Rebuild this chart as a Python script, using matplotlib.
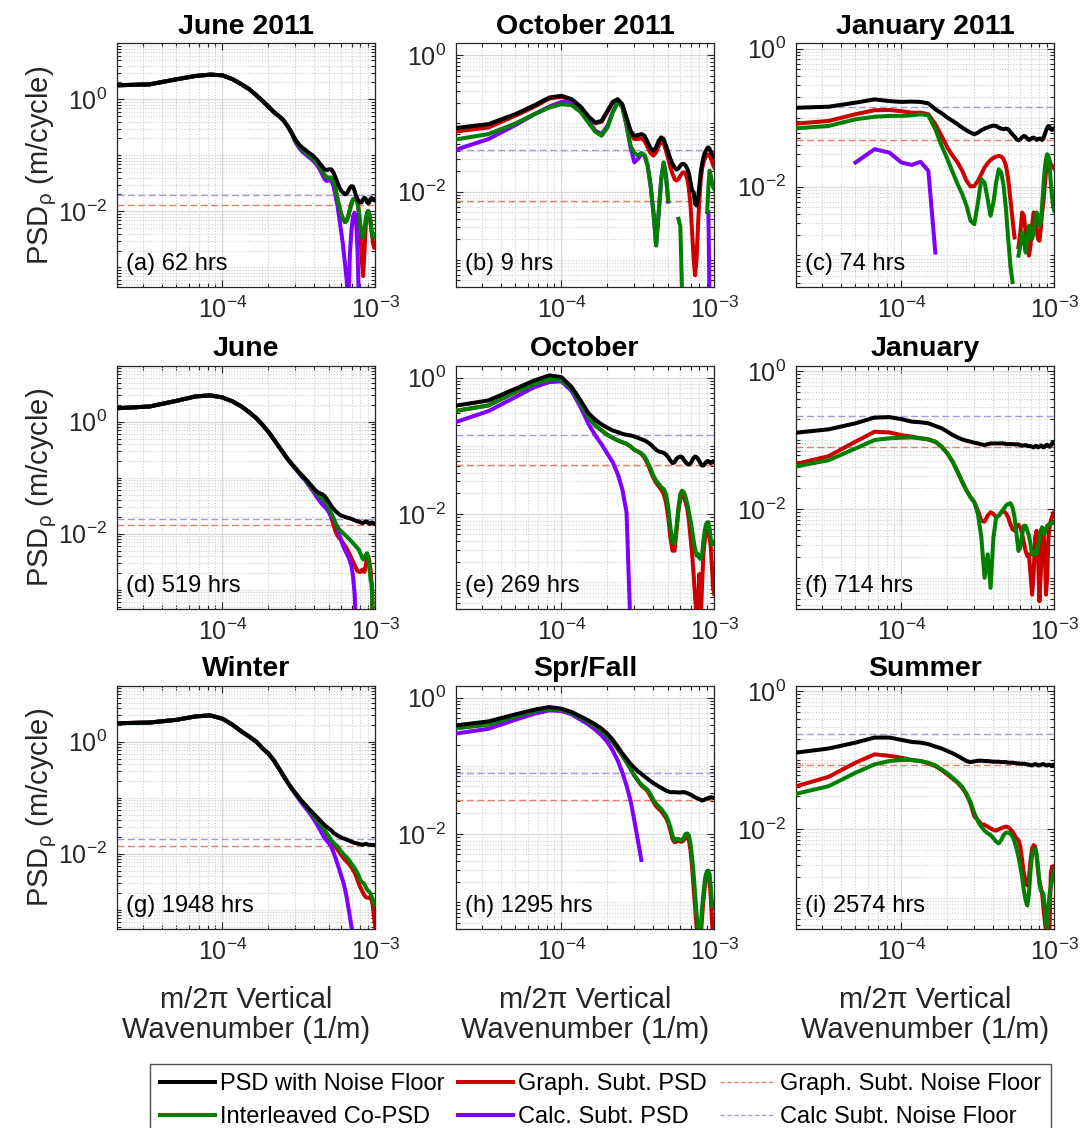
import numpy as np
import matplotlib
matplotlib.use("Agg")
import matplotlib.pyplot as plt
from matplotlib.lines import Line2D
from matplotlib.ticker import FixedLocator, NullFormatter, LogFormatterMathtext

plt.rcParams['font.family'] = ['Liberation Sans', 'DejaVu Sans']
plt.rcParams['mathtext.fontset'] = 'custom'
plt.rcParams['mathtext.rm'] = 'Liberation Sans'
plt.rcParams['mathtext.it'] = 'Liberation Sans:italic'
plt.rcParams['mathtext.bf'] = 'Liberation Sans:bold'

nan = float('nan')

# vertical wavenumber grid (1/m): mode numbers 1..60 of a 60 km record
mode_number = np.arange(1, 61)
wavenumber = mode_number / 60000.0

titles = ['June 2011', 'October 2011', 'January 2011',
          'June', 'October', 'January',
          'Winter', 'Spr/Fall', 'Summer']
panel_tags = ['(a) 62 hrs', '(b) 9 hrs', '(c) 74 hrs',
              '(d) 519 hrs', '(e) 269 hrs', '(f) 714 hrs',
              '(g) 1948 hrs', '(h) 1295 hrs', '(i) 2574 hrs']
graph_noise_floor = [0.013, 0.0073, 0.048, 0.0144, 0.0526, 0.0799, 0.0136, 0.0316, 0.0836]
calc_noise_floor = [0.0193, 0.0407, 0.143, 0.0184, 0.145, 0.227, 0.0187, 0.0789, 0.238]
y_limits = [(4.5e-4, 10), (4e-4, 1.5), (3.5e-4, 1.2),
            (4.5e-4, 10), (4e-4, 1.5), (3.5e-4, 1.2),
            (4.5e-4, 10), (4e-4, 1.5), (3.5e-4, 1.2)]

# ---------------- (a) June 2011 ----------------
a_black = [1.75, 1.85, 2.28, 2.61, 2.76, 2.68, 2.28, 1.85, 1.51, 1.18,
           0.934, 0.74, 0.594, 0.504, 0.428, 0.334, 0.254, 0.193, 0.157, 0.137,
           0.124, 0.112, 0.103, 0.0933, 0.0826, 0.072, 0.0628, 0.0562, 0.0547, 0.0562,
           0.0562, 0.049, 0.0399, 0.0325, 0.0265, 0.0231, 0.0216, 0.0201, 0.0207, 0.0231,
           0.0265, 0.0283, 0.0276, 0.0231, 0.0188, 0.0164, 0.0153, 0.0143, 0.0147, 0.0164,
           0.0175, 0.0168, 0.0147, 0.0139, 0.0147, 0.0168, 0.0173, 0.0164, 0.0157, 0.0164]
a_green = [1.75, 1.85, 2.28, 2.61, 2.76, 2.68, 2.28, 1.85, 1.51, 1.18,
           0.934, 0.74, 0.594, 0.504, 0.428, 0.334, 0.254, 0.180, 0.147, 0.124,
           0.112, 0.100, 0.0908, 0.0814, 0.072, 0.0628, 0.0525, 0.044, 0.0399, 0.0399,
           0.0399, 0.0348, 0.0247, 0.0164, 0.0116, 0.00884, 0.0072, 0.00645, 0.00672, 0.00826,
           0.0109, 0.0139, 0.0164, 0.0168, 0.0164, 0.0143, 0.00946, 0.00547, 0.00363, 0.00339,
           0.00477, 0.0072, 0.00946, 0.0101, 0.00884, 0.00628, 0.00416, 0.00339, 0.00353, 0.00388]
a_red = [1.75, 1.85, 2.28, 2.61, 2.76, 2.68, 2.28, 1.85, 1.51, 1.18,
         0.934, 0.74, 0.594, 0.504, 0.428, 0.334, 0.254, 0.180, 0.147, 0.124,
         0.112, 0.100, 0.0908, 0.0814, 0.072, 0.0628, 0.0525, 0.044, 0.0399, 0.0399,
         0.0399, 0.0348, 0.0247, 0.0164, 0.0116, 0.00884, 0.0072, 0.00645, 0.00672, 0.00826,
         0.0109, 0.0139, 0.0164, 0.0168, 0.0164, 0.0143, 0.00946, 0.00416, 0.00139, 0.0007,
         0.00183, 0.00547, 0.00884, 0.0101, 0.00884, 0.00628, 0.00416, 0.00275, 0.00224, 0.00224]
a_purple = [1.75, 1.85, 2.28, 2.61, 2.76, 2.68, 2.28, 1.85, 1.51, 1.18,
            0.934, 0.74, 0.594, 0.504, 0.428, 0.334, 0.254, 0.173, 0.137, 0.116,
            0.104, 0.0933, 0.0849, 0.076, 0.0662, 0.0562, 0.0458, 0.0373, 0.0348, 0.0358,
            0.0348, 0.0283, 0.0188, 0.0125, 0.0072, 0.00416, 0.0024, 0.00121, 0.00061, 0.0002,
            0.00183, 0.00477, 0.00826, 0.00946, 0.0072, 0.00183, 0.0002, nan, nan, nan,
            nan, nan, nan, nan, nan, nan, nan, nan, nan, nan]

# ---------------- (b) October 2011 ----------------
b_black = [0.081, 0.0978, 0.137, 0.185, 0.240, 0.254, 0.227, 0.177, 0.127, 0.103,
           0.109, 0.153, 0.207, 0.227, 0.192, 0.122, 0.0781, 0.066, 0.0675, 0.0698,
           0.066, 0.0527, 0.0431, 0.0398, 0.0446, 0.0557, 0.0624, 0.059, 0.0471, 0.0377,
           0.0301, 0.0254, 0.0227, 0.021, 0.0219, 0.024, 0.0254, 0.0254, 0.024, 0.0215,
           0.0181, 0.0137, 0.0103, 0.00977, 0.0066, 0.00624, 0.00781, 0.0122, 0.0192, 0.0254,
           0.0318, 0.0368, 0.0398, 0.0431, 0.0446, 0.0421, 0.0385, 0.0356, 0.0337, 0.0318]
b_red = [0.072, 0.0874, 0.13, 0.177, 0.232, 0.245, 0.222, 0.171, 0.122, 0.1,
         0.106, 0.148, 0.203, 0.222, 0.185, 0.116, 0.0698, 0.059, 0.059, 0.0605,
         0.0557, 0.0446, 0.0368, 0.0337, 0.0377, 0.0471, 0.054, 0.052, 0.0398, 0.0301,
         0.0227, 0.0181, 0.0153, 0.0145, 0.0153, 0.017, 0.0187, 0.0192, 0.0181, 0.0153,
         0.0109, 0.00624, 0.00254, 0.00105, 0.00059, 0.00105, 0.00318, 0.00781, 0.0153, 0.0215,
         0.0269, 0.0301, 0.033, 0.0344, 0.035, 0.0337, 0.0308, 0.0275, 0.0245, 0.0227]
b_green = [0.054, 0.0698, 0.1, 0.137, 0.171, 0.192, 0.185, 0.148, 0.103, 0.0755,
           0.066, 0.0874, 0.145, 0.203, 0.177, 0.0924, 0.0471, 0.0368, 0.0337, 0.0368,
           0.0344, 0.024, 0.0122, 0.005, 0.00162, 0.005, 0.0153, 0.0269, 0.0171, 0.00738,
           nan, nan, nan, nan, 0.00398, 0.00307, 0.0003, nan, nan, nan,
           nan, nan, nan, nan, nan, nan, nan, nan, nan, nan,
           nan, nan, nan, 0.005, 0.0122, 0.0203, 0.0171, 0.0137, 0.0116, 0.0109]
b_purple = [0.0356, 0.059, 0.0946, 0.137, 0.177, 0.207, 0.203, 0.162, 0.109, 0.0781,
            0.0698, 0.0924, 0.148, 0.207, 0.18, 0.0946, 0.0446, 0.0269, 0.0301, 0.0356,
            0.0337, 0.024, 0.0122, 0.005, 0.00162, 0.005, 0.0153, 0.0262, 0.017, 0.0071,
            nan, nan, nan, nan, nan, nan, nan, nan, nan, nan,
            nan, nan, nan, nan, nan, nan, nan, nan, nan, nan,
            nan, nan, nan, nan, 0.005, 0.0002, nan, nan, nan, nan]

# ---------------- (c) January 2011 ----------------
c_black = [0.137, 0.144, 0.165, 0.184, 0.174, 0.169, 0.171, 0.169, 0.161, 0.132,
           0.116, 0.1, 0.0895, 0.08, 0.0716, 0.0655, 0.0606, 0.0573, 0.0606, 0.0655,
           0.0693, 0.072, 0.075, 0.0766, 0.0757, 0.0716, 0.0693, 0.0678, 0.0693, 0.0678,
           0.0619, 0.0573, 0.0531, 0.0486, 0.0469, 0.0486, 0.0519, 0.0542, 0.0531, 0.0497,
           0.0475, 0.0486, 0.0507, 0.0513, 0.0497, 0.0475, 0.0486, 0.0497, 0.0497, 0.0475,
           0.0497, 0.0573, 0.0641, 0.0716, 0.0757, 0.0741, 0.0678, 0.0663, 0.0693, 0.0693]
c_red = [0.0792, 0.0895, 0.112, 0.128, 0.129, 0.124, 0.118, 0.118, 0.112, 0.08,
         0.0542, 0.0367, 0.0278, 0.0223, 0.0169, 0.0121, 0.01, 0.0102, 0.0121, 0.0151,
         0.0189, 0.0218, 0.0243, 0.026, 0.0272, 0.0278, 0.0272, 0.0249, 0.02, 0.0128,
         0.00655, 0.00336, 0.00182, nan, 0.00131, 0.00216, 0.0042, 0.00376, 0.00216, 0.00124,
         0.00099, 0.00138, 0.00269, 0.0042, 0.00376, 0.00241, 0.00173, 0.00163, 0.00241, 0.0042,
         0.00586, 0.0102, 0.016, 0.0223, 0.0255, 0.0236, 0.0211, 0.02, 0.0189, 0.0182]
c_green = [0.0678, 0.0757, 0.0946, 0.103, 0.106, 0.106, 0.108, 0.112, 0.108, 0.0678,
           0.0388, 0.0249, 0.016, 0.0108, 0.00774, 0.00525, 0.00318, 0.00284, 0.00586, 0.0128,
           0.0114, 0.00655, 0.00376, 0.00586, 0.0114, 0.0178, 0.016, 0.0102, 0.00469, 0.00173,
           0.00071, 0.00041, nan, nan, 0.00099, 0.00138, 0.00216, 0.00173, 0.0011, 0.00173,
           0.00269, 0.00241, 0.00173, 0.00216, 0.00336, 0.0042, 0.00376, 0.00269, 0.00301, 0.00525,
           0.0102, 0.0178, 0.0249, 0.0294, 0.0278, 0.02, 0.0114, 0.00732, 0.00525, 0.00444]
c_purple = [nan, nan, 0.0223, 0.0348, 0.0311, 0.0223, 0.0206, 0.0228, 0.0169, 0.0011,
            nan, nan, nan, nan, nan, nan, nan, nan, nan, nan,
            nan, nan, nan, nan, nan, nan, nan, nan, nan, nan,
            nan, nan, nan, nan, nan, nan, nan, nan, nan, nan,
            nan, nan, nan, nan, nan, nan, nan, nan, nan, nan,
            nan, nan, nan, nan, nan, nan, nan, nan, nan, nan]

# ---------------- (d) June ----------------
d_black = [1.69, 1.87, 2.36, 2.83, 2.95, 2.71, 2.30, 1.87, 1.47, 1.15,
           0.871, 0.659, 0.486, 0.363, 0.279, 0.217, 0.177, 0.148, 0.125, 0.109,
           0.0946, 0.0824, 0.0717, 0.0624, 0.0558, 0.0528, 0.0507, 0.0473, 0.0411, 0.0358,
           0.0312, 0.0279, 0.0253, 0.0236, 0.022, 0.0211, 0.0206, 0.02, 0.0195, 0.0192,
           0.0189, 0.0184, 0.0179, 0.0174, 0.0169, 0.0167, 0.0165, 0.016, 0.0156, 0.0156,
           0.016, 0.0167, 0.0165, 0.0156, 0.015, 0.0156, 0.016, 0.0156, 0.015, 0.015]
d_green = [1.69, 1.87, 2.36, 2.83, 2.95, 2.71, 2.30, 1.87, 1.47, 1.15,
           0.871, 0.659, 0.486, 0.363, 0.279, 0.217, 0.177, 0.148, 0.125, 0.106,
           0.092, 0.0769, 0.0669, 0.0582, 0.0507, 0.046, 0.0423, 0.0384, 0.0334, 0.0279,
           0.023, 0.0192, 0.0156, 0.0132, 0.0118, 0.011, 0.0103, 0.0096, 0.00895, 0.00835,
           0.0078, 0.00727, 0.00678, 0.00633, 0.0059, 0.00551, 0.00514, 0.00448, 0.00389, 0.00348,
           0.00363, 0.00417, 0.00448, 0.00389, 0.00257, 0.00148, 0.00128, 0.0002, nan, nan]
d_red = [1.69, 1.87, 2.36, 2.83, 2.95, 2.71, 2.30, 1.87, 1.47, 1.15,
         0.871, 0.659, 0.486, 0.363, 0.279, 0.217, 0.177, 0.148, 0.125, 0.106,
         0.092, 0.0769, 0.0669, 0.0582, 0.0507, 0.046, 0.0411, 0.0358, 0.0312, 0.0253,
         0.0192, 0.0146, 0.011, 0.0092, 0.00835, 0.00758, 0.00678, 0.00607, 0.00551, 0.0048,
         0.00417, 0.00363, 0.00316, 0.00275, 0.0024, 0.00217, 0.00208, 0.00208, 0.00224, 0.0023,
         0.00208, 0.00264, 0.00363, 0.00389, 0.00316, 0.00224, 0.00112, 0.0002, nan, nan]
d_purple = [1.69, 1.87, 2.36, 2.83, 2.95, 2.71, 2.30, 1.87, 1.47, 1.15,
            0.871, 0.659, 0.486, 0.363, 0.279, 0.217, 0.177, 0.148, 0.121, 0.101,
            0.0883, 0.0737, 0.0624, 0.0528, 0.0441, 0.0384, 0.0334, 0.0303, 0.0272, 0.0236,
            0.02, 0.0174, 0.0152, 0.0127, 0.0096, 0.00758, 0.00607, 0.00514, 0.00448, 0.00389,
            0.0033, 0.00257, 0.00169, 0.00085, 0.0002, nan, nan, nan, nan, nan,
            nan, nan, nan, nan, nan, nan, nan, nan, nan, nan]

# ---------------- (e) October ----------------
e_black = [0.362, 0.464, 0.689, 0.914, 1.08, 1.02, 0.729, 0.464, 0.302, 0.241,
           0.206, 0.184, 0.168, 0.159, 0.15, 0.145, 0.142, 0.137, 0.131, 0.125,
           0.12, 0.113, 0.105, 0.0955, 0.0873, 0.0826, 0.0807, 0.0789, 0.0746, 0.0681,
           0.0608, 0.0556, 0.0575, 0.0644, 0.0681, 0.0697, 0.0681, 0.0622, 0.0575, 0.0543,
           0.0531, 0.0556, 0.0608, 0.0666, 0.0697, 0.0681, 0.0644, 0.0595, 0.0543, 0.0514,
           0.0514, 0.0543, 0.0575, 0.0595, 0.0595, 0.0575, 0.0556, 0.0575, 0.0595, 0.0575]
e_green = [0.302, 0.392, 0.616, 0.816, 0.935, 0.914, 0.689, 0.415, 0.264, 0.199,
           0.168, 0.145, 0.131, 0.12, 0.113, 0.107, 0.0978, 0.0873, 0.0826, 0.078,
           0.0697, 0.0575, 0.0459, 0.0366, 0.0309, 0.0276, 0.0247, 0.0233, 0.0197, 0.0125,
           0.00637, 0.00383, 0.00371, 0.00637, 0.0125, 0.0197, 0.022, 0.0208, 0.0176, 0.014,
           0.0106, 0.00798, 0.00569, 0.00405, 0.00306, 0.00244, 0.00258, 0.00225, 0.00218, 0.00258,
           0.00405, 0.00569, 0.00697, 0.00754, 0.00754, 0.00601, 0.00429, 0.00354, 0.00362, 0.00383]
e_red = [0.302, 0.392, 0.616, 0.816, 0.935, 0.914, 0.689, 0.415, 0.264, 0.199,
         0.168, 0.145, 0.131, 0.12, 0.113, 0.107, 0.0978, 0.0873, 0.0826, 0.0762,
         0.0666, 0.0543, 0.0424, 0.0338, 0.0286, 0.0255, 0.0228, 0.0197, 0.0149, 0.00893,
         0.00454, 0.00289, 0.00289, 0.00569, 0.0112, 0.0166, 0.0186, 0.0176, 0.0149, 0.0119,
         0.00798, 0.00454, 0.00258, 0.00131, 0.0006, 0.0003, 0.00042, 0.00131, 0.0003, 0.00094,
         0.00258, 0.00405, 0.00508, 0.00569, 0.00569, 0.00454, 0.00324, 0.00164, 0.00084, 0.00067]
e_purple = [0.192, 0.324, 0.52, 0.729, 0.863, 0.883, 0.637, 0.371, 0.211, 0.142,
            0.105, 0.0762, 0.0575, 0.0388, 0.0233, 0.0106, 0.0002, nan, nan, nan,
            nan, nan, nan, nan, nan, nan, nan, nan, nan, nan,
            nan, nan, nan, nan, nan, nan, nan, nan, nan, nan,
            nan, nan, nan, nan, nan, nan, nan, nan, nan, nan,
            nan, nan, nan, nan, nan, nan, nan, nan, nan, nan]

# ---------------- (f) January ----------------
f_black = [0.122, 0.143, 0.175, 0.212, 0.215, 0.201, 0.185, 0.181, 0.175, 0.16,
           0.148, 0.132, 0.118, 0.109, 0.102, 0.0978, 0.0946, 0.0914, 0.0893, 0.0865,
           0.0845, 0.0873, 0.0893, 0.0893, 0.0893, 0.0893, 0.0893, 0.0893, 0.0873, 0.0873,
           0.0873, 0.0873, 0.0865, 0.0865, 0.0865, 0.0845, 0.0826, 0.0836, 0.0845, 0.0826,
           0.0817, 0.0817, 0.0799, 0.0781, 0.0817, 0.0817, 0.0781, 0.0799, 0.0836, 0.0817,
           0.0781, 0.0799, 0.0836, 0.0855, 0.0817, 0.0799, 0.0836, 0.0893, 0.0914, 0.0893]
f_red = [0.0403, 0.0583, 0.0946, 0.132, 0.129, 0.118, 0.112, 0.106, 0.102, 0.0946,
         0.0799, 0.0638, 0.0482, 0.0344, 0.0246, 0.0185, 0.0148, 0.0125, 0.00946, 0.00675,
         0.00653, 0.00798, 0.00894, 0.00845, 0.00755, 0.00798, 0.00894, 0.00925, 0.00865, 0.00755,
         0.00603, 0.00509, 0.00482, 0.00551, 0.0059, 0.0054, 0.00431, 0.00325, 0.00245, 0.00207,
         0.00219, 0.00112, 0.00057, 0.00112, 0.00385, 0.00482, 0.00219, 0.000456, 0.00112, 0.00385,
         0.00482, 0.00245, 0.00057, 0.001, 0.00385, 0.0054, 0.00675, 0.00755, 0.00865, 0.00894]
f_green = [0.038, 0.0509, 0.0755, 0.1, 0.106, 0.108, 0.109, 0.106, 0.102, 0.0946,
           0.0799, 0.0638, 0.0482, 0.0344, 0.0246, 0.0185, 0.0148, 0.0125, 0.00845, 0.00385,
           0.001, 0.00219, 0.000714, 0.00385, 0.00755, 0.00798, 0.00894, 0.01, 0.0112, 0.0118,
           0.0121, 0.0106, 0.00755, 0.00431, 0.00245, 0.00275, 0.00431, 0.0057, 0.0057, 0.00482,
           0.00407, 0.00307, 0.00219, 0.00245, 0.00219, 0.00224, 0.00275, 0.00364, 0.00482, 0.0054,
           0.00509, 0.00431, 0.00482, 0.0057, 0.0059, 0.00603, 0.00617, 0.00638, 0.00638, 0.00638]

# ---------------- (g) Winter ----------------
g_black = [2.11, 2.2, 2.46, 2.83, 2.95, 2.57, 2.0, 1.52, 1.23, 1.0,
           0.758, 0.615, 0.466, 0.339, 0.25, 0.189, 0.148, 0.121, 0.1, 0.0847,
           0.0737, 0.0641, 0.0566, 0.05, 0.0448, 0.04, 0.0358, 0.0325, 0.0299, 0.0279,
           0.026, 0.0236, 0.0224, 0.0211, 0.0203, 0.0195, 0.0189, 0.0184, 0.0179, 0.0174,
           0.0169, 0.0165, 0.016, 0.0156, 0.0154, 0.0152, 0.015, 0.0148, 0.0146, 0.0146,
           0.0148, 0.015, 0.0148, 0.0146, 0.0144, 0.0144, 0.0144, 0.0144, 0.0142, 0.0142]
g_green = [2.11, 2.2, 2.46, 2.83, 2.95, 2.57, 2.0, 1.52, 1.23, 1.0,
           0.758, 0.615, 0.466, 0.339, 0.25, 0.189, 0.148, 0.121, 0.1, 0.0847,
           0.0737, 0.0607, 0.0528, 0.046, 0.04, 0.0348, 0.0303, 0.0264, 0.023, 0.02,
           0.0174, 0.0156, 0.0146, 0.0136, 0.0121, 0.011, 0.01, 0.0092, 0.00871, 0.00801,
           0.00727, 0.00659, 0.00607, 0.00551, 0.005, 0.00448, 0.00389, 0.00339, 0.00316, 0.00303,
           0.00287, 0.00257, 0.0023, 0.00217, 0.00208, 0.00195, 0.00169, 0.00148, 0.00128, 0.0012]
g_red = [2.11, 2.2, 2.46, 2.83, 2.95, 2.57, 2.0, 1.52, 1.23, 1.0,
         0.758, 0.615, 0.466, 0.339, 0.25, 0.189, 0.148, 0.121, 0.1, 0.0847,
         0.0737, 0.0598, 0.0521, 0.0448, 0.0384, 0.033, 0.0283, 0.0243, 0.0211, 0.0184,
         0.016, 0.0144, 0.013, 0.0118, 0.0106, 0.00946, 0.00859, 0.0078, 0.00727, 0.00678,
         0.00624, 0.00566, 0.00514, 0.0046, 0.004, 0.00339, 0.00287, 0.0025, 0.00224, 0.002,
         0.00182, 0.00169, 0.00165, 0.00165, 0.00165, 0.00158, 0.00148, 0.00112, 0.00074, 0.00049]
g_purple = [2.11, 2.2, 2.46, 2.83, 2.95, 2.57, 2.0, 1.52, 1.23, 1.0,
            0.758, 0.615, 0.466, 0.339, 0.25, 0.189, 0.148, 0.116, 0.0946, 0.078,
            0.0659, 0.0558, 0.0473, 0.0395, 0.033, 0.0272, 0.0227, 0.0189, 0.0169, 0.0152,
            0.0132, 0.0106, 0.00835, 0.00659, 0.00514, 0.004, 0.00316, 0.0024, 0.00169, 0.00112,
            0.00074, 0.00049, 0.00032, nan, nan, nan, nan, nan, nan, nan,
            nan, nan, nan, nan, nan, nan, nan, nan, nan, nan]

# ---------------- (h) Spr/Fall ----------------
h_black = [0.371, 0.449, 0.569, 0.667, 0.729, 0.689, 0.616, 0.531, 0.464, 0.405,
           0.35, 0.296, 0.241, 0.192, 0.153, 0.127, 0.107, 0.0935, 0.0835, 0.0762,
           0.0697, 0.0644, 0.0595, 0.0556, 0.0526, 0.0497, 0.0475, 0.0454, 0.0434, 0.042,
           0.041, 0.041, 0.041, 0.041, 0.0406, 0.0406, 0.041, 0.041, 0.0406, 0.0396,
           0.0388, 0.0379, 0.0366, 0.0354, 0.0346, 0.0338, 0.0331, 0.0324, 0.0316, 0.0309,
           0.0313, 0.032, 0.0327, 0.0331, 0.0338, 0.0338, 0.0346, 0.0346, 0.0338, 0.0338]
h_green = [0.338, 0.405, 0.531, 0.637, 0.689, 0.667, 0.595, 0.508, 0.439, 0.379,
           0.324, 0.27, 0.223, 0.178, 0.142, 0.113, 0.0903, 0.0721, 0.0608, 0.0531,
           0.0486, 0.0444, 0.0379, 0.0316, 0.0276, 0.0252, 0.0233, 0.0208, 0.0186, 0.0157,
           0.0125, 0.00945, 0.00798, 0.00844, 0.00844, 0.00798, 0.00816, 0.00893, 0.01, 0.0102,
           0.00945, 0.00713, 0.00454, 0.00258, 0.00131, 0.00067, 0.00042, 0.0003, 0.00042, 0.00084,
           0.00131, 0.00206, 0.00258, 0.00289, 0.00289, 0.00258, 0.00164, 0.00094, 0.00084, 0.00094]
h_red = [0.338, 0.405, 0.531, 0.637, 0.689, 0.667, 0.595, 0.508, 0.439, 0.379,
         0.324, 0.27, 0.223, 0.178, 0.142, 0.113, 0.0903, 0.0721, 0.0608, 0.0514,
         0.047, 0.0424, 0.0354, 0.0296, 0.0255, 0.0233, 0.0216, 0.0192, 0.0172, 0.0144,
         0.0112, 0.00844, 0.00754, 0.00771, 0.00798, 0.00771, 0.00771, 0.00816, 0.00893, 0.00914,
         0.00798, 0.00569, 0.00324, 0.00164, 0.00084, 0.00042, 0.0003, 0.0003, 0.0003, 0.0006,
         0.00105, 0.00164, 0.00218, 0.00258, 0.00258, 0.00206, 0.00117, 0.00053, 0.0003, 0.0003]
h_purple = [0.279, 0.35, 0.475, 0.582, 0.651, 0.637, 0.569, 0.475, 0.405, 0.338,
            0.279, 0.223, 0.168, 0.12, 0.0807, 0.0514, 0.0309, 0.0157, 0.00798, 0.00415,
            nan, nan, nan, nan, nan, nan, nan, nan, nan, nan,
            nan, nan, nan, nan, nan, nan, nan, nan, nan, nan,
            nan, nan, nan, nan, nan, nan, nan, nan, nan, nan,
            nan, nan, nan, nan, nan, nan, nan, nan, nan, nan]

# ---------------- (i) Summer ----------------
i_black = [0.121, 0.147, 0.179, 0.212, 0.212, 0.196, 0.183, 0.179, 0.17, 0.157,
           0.147, 0.135, 0.125, 0.115, 0.105, 0.0967, 0.0935, 0.0956, 0.0978, 0.0978,
           0.0967, 0.0967, 0.0956, 0.0946, 0.0946, 0.0946, 0.0935, 0.0935, 0.0935, 0.0914,
           0.0914, 0.0914, 0.0904, 0.0894, 0.0894, 0.0884, 0.0884, 0.0884, 0.0874, 0.0865,
           0.0855, 0.0845, 0.0836, 0.0855, 0.0874, 0.0865, 0.0836, 0.0836, 0.0855, 0.0865,
           0.0874, 0.0855, 0.0836, 0.0836, 0.0855, 0.0855, 0.0836, 0.0817, 0.0845, 0.0855]
i_red = [0.0364, 0.057, 0.0914, 0.121, 0.115, 0.108, 0.1, 0.0967, 0.0894, 0.0817,
         0.0714, 0.0617, 0.0533, 0.0466, 0.0394, 0.0315, 0.0232, 0.0151, 0.0135, 0.0117,
         0.0115, 0.0108, 0.0102, 0.00967, 0.00946, 0.00989, 0.0102, 0.0106, 0.0108, 0.0106,
         0.00989, 0.00914, 0.00817, 0.0073, 0.0069, 0.00551, 0.00352, 0.00224, 0.00169, 0.00151,
         0.002, 0.00352, 0.00521, 0.00583, 0.00551, 0.00394, 0.00251, 0.00179, 0.00143, 0.00115,
         0.00073, 0.000466, 0.000333, 0.000333, 0.000333, 0.000372, 0.00224, 0.00281, 0.00288, 0.00281]
i_green = [0.0291, 0.0417, 0.0653, 0.0865, 0.0967, 0.1, 0.1, 0.0967, 0.0914, 0.0836,
           0.073, 0.0638, 0.0551, 0.0476, 0.0407, 0.0325, 0.0243, 0.017, 0.0128, 0.0108,
           0.00946, 0.00865, 0.00817, 0.0073, 0.00653, 0.00617, 0.0069, 0.00817, 0.00884, 0.00884,
           0.00845, 0.00773, 0.00653, 0.00521, 0.00394, 0.00281, 0.002, 0.00128, 0.000914, 0.000773,
           0.00115, 0.00251, 0.00417, 0.00504, 0.00521, 0.00441, 0.00281, 0.0016, 0.00128, 0.00121,
           0.00115, 0.00073, 0.000466, 0.000333, 0.00073, 0.00115, 0.00143, 0.00179, 0.00224, 0.00251]

psd_with_noise = [a_black, b_black, c_black, d_black, e_black, f_black, g_black, h_black, i_black]
graph_subt_psd = [a_red, b_red, c_red, d_red, e_red, f_red, g_red, h_red, i_red]
interleaved_copsd = [a_green, b_green, c_green, d_green, e_green, f_green, g_green, h_green, i_green]
calc_subt_psd = [a_purple, b_purple, c_purple, d_purple, e_purple, None, g_purple, h_purple, None]

# ---------------- styling ----------------
C_BLACK = 'black'
C_RED = '#cc0000'
C_GREEN = '#007f00'
C_PURPLE = '#8000ff'
C_RED_FLOOR = '#e3806e'
C_PURPLE_FLOOR = '#a797dc'
LW = 2.9
AX_COLOR = '#262626'

W, H = 1091, 1128
fig = plt.figure(figsize=(W / 100, H / 100), dpi=100)

col_left = [116.7, 455.7, 795.7]
row_top = [43.3, 365.7, 685.7]
ax_w, ax_h = 258.5, 243.5

x_major = [1e-4, 1e-3]
x_minor = [m * 10.0 ** e for e in (-5, -4, -3) for m in range(2, 10)]
y_major = [1e-4, 1e-2, 1e0]
y_minor = [m * 10.0 ** e for e in range(-5, 2) for m in range(1, 10)
           if not (m == 1 and e in (-4, -2, 0))]

axes = []
for idx in range(9):
    r, c = divmod(idx, 3)
    left = col_left[c] / W
    bottom = 1 - (row_top[r] + ax_h) / H
    ax = fig.add_axes([left, bottom, ax_w / W, ax_h / H])
    axes.append(ax)
    ax.set_xscale('log')
    ax.set_yscale('log')

    ax.axhline(graph_noise_floor[idx], color=C_RED_FLOOR, lw=1.0, ls=(0, (5, 2.5)), zorder=2)
    ax.axhline(calc_noise_floor[idx], color=C_PURPLE_FLOOR, lw=1.0, ls=(0, (5, 2.5)), zorder=2)
    ax.plot(wavenumber, graph_subt_psd[idx], color=C_RED, lw=LW, zorder=3)
    if calc_subt_psd[idx] is not None:
        ax.plot(wavenumber, calc_subt_psd[idx], color=C_PURPLE, lw=LW, zorder=4)
    ax.plot(wavenumber, interleaved_copsd[idx], color=C_GREEN, lw=LW, zorder=5)
    ax.plot(wavenumber, psd_with_noise[idx], color=C_BLACK, lw=LW, zorder=6)

    ax.set_xlim(2.03e-5, 1e-3)
    ax.set_ylim(*y_limits[idx])

    ax.xaxis.set_major_locator(FixedLocator(x_major))
    ax.xaxis.set_minor_locator(FixedLocator(x_minor))
    ax.yaxis.set_major_locator(FixedLocator(y_major))
    ax.yaxis.set_minor_locator(FixedLocator(y_minor))
    ax.xaxis.set_major_formatter(LogFormatterMathtext())
    ax.yaxis.set_major_formatter(LogFormatterMathtext())
    ax.xaxis.set_minor_formatter(NullFormatter())
    ax.yaxis.set_minor_formatter(NullFormatter())

    ax.set_axisbelow(True)
    ax.grid(True, which='major', color='#d9d9d9', lw=0.9, ls='-')
    ax.grid(True, which='minor', color='#cfcfcf', lw=0.8, ls=(0, (1, 1.5)))
    ax.tick_params(which='both', direction='in', top=True, right=True,
                   colors=AX_COLOR, width=0.8)
    ax.tick_params(which='major', length=5, labelsize=18, pad=7)
    ax.tick_params(which='minor', length=3)
    for sp in ax.spines.values():
        sp.set_color(AX_COLOR)
        sp.set_linewidth(0.9)

    ax.set_title(titles[idx], fontsize=20.5, fontweight='bold', pad=7)
    ax.text(0.035, 0.094, panel_tags[idx], transform=ax.transAxes,
            fontsize=17, ha='left', va='center', color='black', zorder=10)

    if c == 0:
        ax.set_ylabel(r'PSD$_{\mathrm{\rho}}$ (m/cycle)', fontsize=21, color=AX_COLOR)
        ax.yaxis.set_label_coords(-0.225, 0.5)
    if r == 2:
        ax.set_xlabel('m/2\u03c0 Vertical\nWavenumber (1/m)', fontsize=21,
                      color=AX_COLOR, linespacing=1.1, labelpad=15)

handles = [Line2D([], [], color=C_BLACK, lw=LW),
           Line2D([], [], color=C_GREEN, lw=LW),
           Line2D([], [], color=C_RED, lw=LW),
           Line2D([], [], color=C_PURPLE, lw=LW),
           Line2D([], [], color=C_RED_FLOOR, lw=1.0, ls=(0, (3, 2))),
           Line2D([], [], color=C_PURPLE_FLOOR, lw=1.0, ls=(0, (3, 2)))]
labels = ['PSD with Noise Floor', 'Interleaved Co-PSD',
          'Graph. Subt. PSD', 'Calc. Subt. PSD',
          'Graph. Subt. Noise Floor', 'Calc Subt. Noise Floor']
leg = fig.legend(handles, labels, ncol=3, loc='upper center',
                 bbox_to_anchor=(600.5 / W, 1 - 1064 / H), fontsize=17,
                 frameon=True, fancybox=False, edgecolor=AX_COLOR,
                 handlelength=2.33, handletextpad=0.21, columnspacing=0.57,
                 borderpad=0.4, labelspacing=0.45, borderaxespad=0.0)
leg.get_frame().set_linewidth(1.0)

fig.savefig('out.png', dpi=100)
